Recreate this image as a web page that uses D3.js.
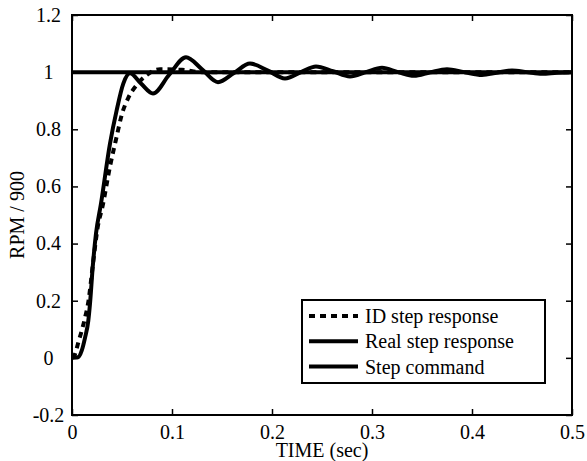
<!DOCTYPE html>
<html>
<head>
<meta charset="utf-8">
<script src="https://cdn.jsdelivr.net/npm/d3@7"></script>
<style>
  body { margin: 0; background: #fff; }
</style>
</head>
<body>
<svg width="587" height="461"></svg>
<script>
// values
let realTime = [0, 0.006, 0.0097, 0.013, 0.0163, 0.018, 0.0207, 0.024, 0.029, 0.038, 0.0447, 0.0513, 0.058,
	0.069, 0.081, 0.097, 0.114, 0.13, 0.146, 0.162, 0.178, 0.196, 0.213, 0.229, 0.244, 0.261, 0.278,
	0.294, 0.31, 0.326, 0.342, 0.358, 0.375, 0.392, 0.41, 0.425, 0.44, 0.455, 0.47, 0.485, 0.5];
let realRpm = [0, 0.002, 0.025, 0.07, 0.13, 0.19, 0.317, 0.435, 0.54, 0.75, 0.867, 0.96, 0.996,
	0.96, 0.925, 0.99, 1.052, 1.01, 0.965, 0.997, 1.03, 1.005, 0.978, 1.0, 1.02, 1.003, 0.985,
	1.0, 1.015, 1.0, 0.987, 0.999, 1.01, 1.0, 0.99, 0.998, 1.006, 1.0, 0.994, 0.998, 1.0];

let idTime = [0, 0.003, 0.0063, 0.0097, 0.013, 0.0165, 0.021, 0.0257, 0.0307, 0.038, 0.0447, 0.0497,
	0.0563, 0.0647, 0.0747, 0.088, 0.11, 0.13, 0.2, 0.3, 0.4, 0.5];
let idRpm = [0, 0.013, 0.054, 0.095, 0.14, 0.2, 0.33, 0.457, 0.533, 0.67, 0.775, 0.85,
	0.91, 0.955, 0.99, 1.01, 1.008, 1.0, 1.0, 1.0, 1.0, 1.0];

let stepTime = [0, 0.5];
let stepValue = [1, 1];

let xTicks = [0, 0.1, 0.2, 0.3, 0.4, 0.5];
let yTicks = [-0.2, 0, 0.2, 0.4, 0.6, 0.8, 1, 1.2];
let legendLabels = ["ID step response", "Real step response", "Step command"];

let font = "Liberation Serif";
let svg = d3.select("svg").attr("font-family", font);
let margin = {top: 15, right: 15, bottom: 46, left: 72};
let width = 587, height = 461;

let x = d3.scaleLinear()
	.domain([0, 0.5])
	.range([margin.left, width - margin.right]);

let y = d3.scaleLinear()
	.domain([-0.2, 1.2])
	.range([height - margin.bottom, margin.top]);

// plain hyphen for negatives, like the original
let fmt = d => String(+d.toFixed(1));

// axes, ticks pointing inward like matlab
svg.append("g")
	.attr("transform", `translate(0,${y(-0.2)})`)
	.call(d3.axisBottom(x).tickValues(xTicks).tickFormat(fmt).tickSizeInner(-6).tickSizeOuter(0).tickPadding(10))
	.call(g => g.select(".domain").remove())
	.call(g => g.attr("font-family", font).attr("font-size", 20));

svg.append("g")
	.attr("transform", `translate(0,${y(1.2)})`)
	.call(d3.axisTop(x).tickValues(xTicks).tickFormat("").tickSizeInner(-6).tickSizeOuter(0))
	.call(g => g.select(".domain").remove());

svg.append("g")
	.attr("transform", `translate(${x(0)},0)`)
	.call(d3.axisLeft(y).tickValues(yTicks).tickFormat(fmt).tickSizeInner(-6).tickSizeOuter(0))
	.call(g => g.select(".domain").remove())
	.call(g => g.attr("font-family", font).attr("font-size", 20))
	.call(g => g.selectAll("text").attr("text-anchor", "middle").attr("x", -23.5));

svg.append("g")
	.attr("transform", `translate(${x(0.5)},0)`)
	.call(d3.axisRight(y).tickValues(yTicks).tickFormat("").tickSizeInner(-6).tickSizeOuter(0))
	.call(g => g.select(".domain").remove());

svg.selectAll(".tick line").attr("stroke", "#000").attr("stroke-width", 1.5);
svg.selectAll(".tick text").attr("fill", "#000");

svg.append("rect")
	.attr("x", x(0)).attr("y", y(1.2))
	.attr("width", x(0.5) - x(0)).attr("height", y(-0.2) - y(1.2))
	.attr("fill", "none").attr("stroke", "#000").attr("stroke-width", 2);

let line = d3.line()
	.x(d => x(d[0]))
	.y(d => y(d[1]))
	.curve(d3.curveMonotoneX);

svg.append("path")
	.datum(d3.zip(idTime, idRpm))
	.attr("d", line)
	.attr("fill", "none").attr("stroke", "#000")
	.attr("stroke-width", 4).attr("stroke-dasharray", "6,5");

svg.append("path")
	.datum(d3.zip(realTime, realRpm))
	.attr("d", line)
	.attr("fill", "none").attr("stroke", "#000").attr("stroke-width", 4);

svg.append("path")
	.datum(d3.zip(stepTime, stepValue))
	.attr("d", line)
	.attr("fill", "none").attr("stroke", "#000").attr("stroke-width", 4);

// axis titles
svg.append("text")
	.attr("x", (x(0) + x(0.5)) / 2).attr("y", 457)
	.attr("text-anchor", "middle").attr("font-size", 20)
	.text("TIME (sec)");

svg.append("text")
	.attr("transform", `translate(24,${(y(-0.2) + y(1.2)) / 2}) rotate(-90)`)
	.attr("text-anchor", "middle").attr("font-size", 20)
	.text("RPM / 900");

// legend
let legend = svg.append("g");
legend.append("rect")
	.attr("x", 302).attr("y", 300).attr("width", 243).attr("height", 83)
	.attr("fill", "#fff").attr("stroke", "#000").attr("stroke-width", 2);

let rows = legend.selectAll(".row").data(legendLabels).enter().append("g")
	.attr("transform", (d, i) => `translate(0,${316 + i * 25.3})`);

rows.append("line")
	.attr("x1", 309).attr("x2", 358)
	.attr("stroke", "#000").attr("stroke-width", 4)
	.attr("stroke-dasharray", (d, i) => i == 0 ? "6,5" : null);

rows.append("text")
	.attr("x", 365).attr("dy", "0.35em")
	.attr("font-size", 20)
	.text(d => d);
</script>
</body>
</html>
